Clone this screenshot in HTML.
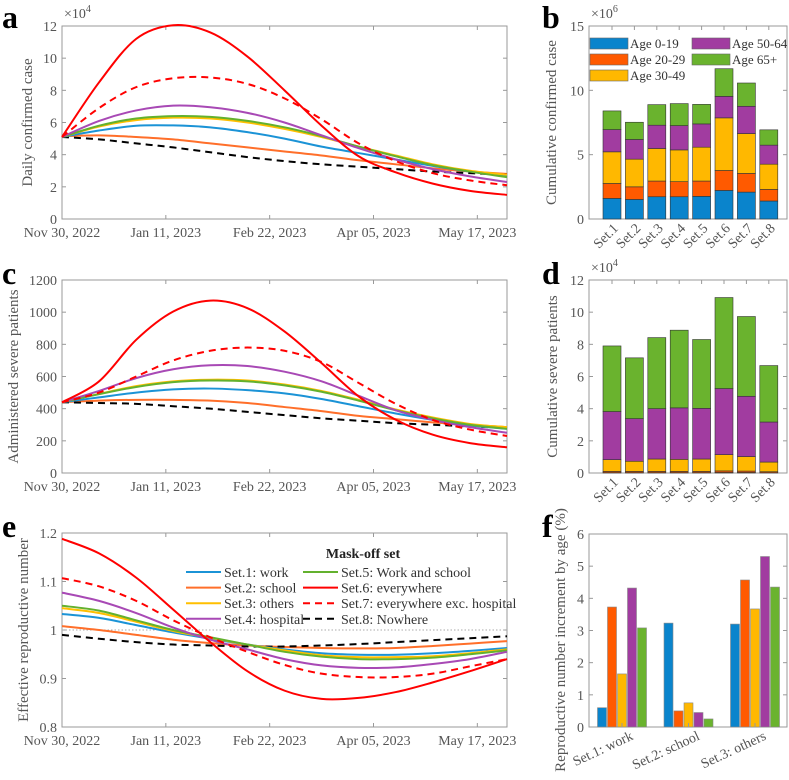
<!DOCTYPE html>
<html><head><meta charset="utf-8"><style>
html,body{margin:0;padding:0;background:#fff}
svg{display:block;font-family:"Liberation Serif",serif}
.tk{font-size:14px;fill:#555}
.lab{font-size:15px;fill:#555}
.pl{font-size:32px;font-weight:bold;fill:#000}
.lg{font-size:14px;fill:#333}
.lgb{font-size:13px;fill:#333}
</style></head><body>
<svg id="fig" width="789" height="780" viewBox="0 0 789 780"></svg>
<script>
// ---------- data ----------
const days = [0,15,30,45,60,75,90,105,120,135,150,165,180];
const dateTicks = [0,42,84,126,168];
const dateLabels = ["Nov 30, 2022","Jan 11, 2023","Feb 22, 2023","Apr 05, 2023","May 17, 2023"];
const setNames = ["Set.1","Set.2","Set.3","Set.4","Set.5","Set.6","Set.7","Set.8"];
const ageNames = ["Age 0-19","Age 20-29","Age 30-49","Age 50-64","Age 65+"];
const legendNames = ["Set.1: work","Set.2: school","Set.3: others","Set.4: hospital","Set.5: Work and school","Set.6: everywhere","Set.7: everywhere exc. hospital","Set.8: Nowhere"];
// panel a (x1e4)
const a1=[5.1,5.5,5.8,5.82,5.7,5.4,5.0,4.5,4.1,3.7,3.3,2.95,2.7];
const a2=[5.15,5.2,5.1,4.95,4.7,4.45,4.2,3.95,3.65,3.4,3.15,2.95,2.8];
const a3=[5.1,5.75,6.15,6.3,6.25,6.0,5.6,5.1,4.5,3.95,3.4,3.0,2.75];
const a4=[5.1,6.1,6.75,7.05,6.95,6.6,6.0,5.2,4.4,3.7,3.1,2.65,2.3];
const a5=[5.1,5.8,6.25,6.4,6.35,6.1,5.7,5.15,4.5,3.9,3.35,2.95,2.6];
const a6=[5.1,8.5,11.2,12.05,11.6,10.1,8.0,5.8,3.9,2.9,2.2,1.75,1.5];
const a7=[5.1,6.9,8.2,8.75,8.8,8.4,7.5,6.2,4.7,3.6,2.85,2.4,2.1];
const a8=[5.1,4.95,4.7,4.45,4.15,3.85,3.6,3.4,3.25,3.1,2.95,2.85,2.75];
// panel c
const c1=[440,470,500,520,525,515,495,460,415,370,330,295,275];
const c2=[440,450,455,455,450,435,410,385,355,335,315,300,285];
const c3=[440,492,540,570,580,575,550,510,455,395,345,305,285];
const c4=[440,510,590,645,670,665,630,570,480,390,330,285,250];
const c5=[440,490,535,565,575,570,545,505,450,390,340,300,275];
const c6=[440,570,828,1004,1072,1025,880,683,476,331,238,186,160];
const c7=[440,500,600,700,760,780,760,690,560,430,330,270,230];
const c8=[440,435,430,415,400,380,360,340,325,310,300,290,280];
// panel e
const e1=[1.033,1.025,1.01,0.995,0.982,0.97,0.96,0.952,0.949,0.949,0.952,0.957,0.963];
const e2=[1.008,1.0,0.99,0.98,0.973,0.968,0.965,0.963,0.962,0.963,0.967,0.972,0.977];
const e3=[1.045,1.035,1.017,0.998,0.984,0.97,0.958,0.948,0.944,0.944,0.946,0.952,0.96];
const e4=[1.077,1.06,1.035,1.005,0.98,0.96,0.94,0.927,0.922,0.923,0.93,0.94,0.955];
const e5=[1.05,1.04,1.02,1.0,0.985,0.97,0.955,0.945,0.94,0.94,0.943,0.95,0.958];
const e6=[1.188,1.158,1.108,1.042,0.975,0.915,0.875,0.858,0.86,0.872,0.892,0.915,0.94];
const e7=[1.107,1.09,1.06,1.02,0.985,0.955,0.928,0.91,0.903,0.903,0.91,0.925,0.94];
const e8=[0.99,0.982,0.975,0.97,0.968,0.966,0.966,0.968,0.971,0.975,0.979,0.983,0.987];
// panel b segments (x1e6)
const b0=[1.6,1.52,1.73,1.73,1.76,2.22,2.09,1.4];
const b1=[1.16,0.98,1.22,1.17,1.19,1.55,1.45,0.9];
const b2=[2.46,2.15,2.53,2.47,2.63,4.09,3.1,1.96];
const b3=[1.73,1.53,1.81,1.89,1.81,1.67,2.12,1.48];
const b4=[1.45,1.34,1.6,1.71,1.52,2.15,1.81,1.19];
// panel d segments (x1e4)
const d0=[0.02,0.02,0.02,0.02,0.02,0.03,0.03,0.02];
const d1=[0.08,0.08,0.08,0.08,0.08,0.1,0.09,0.06];
const d2=[0.73,0.63,0.77,0.75,0.77,1.01,0.9,0.6];
const d3=[2.99,2.65,3.13,3.2,3.15,4.11,3.75,2.49];
const d4=[4.08,3.78,4.42,4.83,4.28,5.66,4.96,3.51];
// panel f
const fGroups=["Set.1: work","Set.2: school","Set.3: others"];
const f0=[0.6,3.23,3.2];
const f1=[3.73,0.5,4.57];
const f2=[1.65,0.75,3.67];
const f3=[4.32,0.45,5.3];
const f4=[3.08,0.25,4.35];

// ---------- drawing ----------
const NS="http://www.w3.org/2000/svg";
const svg=document.getElementById('fig');
function el(tag,attrs,parent,text){const e=document.createElementNS(NS,tag);for(const k in attrs)e.setAttribute(k,attrs[k]);if(text!==undefined)e.textContent=text;(parent||svg).appendChild(e);return e;}
const lineCols=["#1b93d6","#ff6f2a","#ffbf00","#a849b5","#63b12e","#ff0000","#ff0000","#000000"];
const barCols=["#0a84cc","#ff5a00","#ffb800","#a13ca0","#6ab32e"];

function axesBox(g,x0,x1,y0,y1){
  const r=el('rect',{x:x0,y:y0,width:x1-x0,height:y1-y0,fill:'none',stroke:'#999','stroke-width':1},g);
  
}
function yAxis(g,x0,x1,sy,ticks,labels,name){
  ticks.forEach((t,i)=>{const y=sy(t);
    el('line',{x1:x0,y1:y,x2:x0+4,y2:y,stroke:'#999'},g);el('line',{x1:x1,y1:y,x2:x1-4,y2:y,stroke:'#999'},g);
    const tx=el('text',{x:x0-5,y:y+5,'text-anchor':'end',class:'tk'},g,labels[i]);
    });
}
function ylabel(g,x,y,txt,name){const t=el('text',{x:x,y:y,transform:`rotate(-90 ${x} ${y})`,'text-anchor':'middle',class:'lab'},g,txt);
  }
function pletter(x,y,s){const t=el('text',{x:x,y:y,class:'pl'},svg,s);}
function smooth(pts){let d=`M${pts[0][0]},${pts[0][1]}`;
  for(let i=0;i<pts.length-1;i++){const p0=pts[Math.max(0,i-1)],p1=pts[i],p2=pts[i+1],p3=pts[Math.min(pts.length-1,i+2)];
    const c1x=p1[0]+(p2[0]-p0[0])/6,c1y=p1[1]+(p2[1]-p0[1])/6,c2x=p2[0]-(p3[0]-p1[0])/6,c2y=p2[1]-(p3[1]-p1[1])/6;
    d+=` C${c1x},${c1y} ${c2x},${c2y} ${p2[0]},${p2[1]}`;}return d;}

function lineChart(id,y0,y1,ymin,ymax,yticks,ylabs,series,labelX,labelTxt,mult,extra){
  const x0=62,x1=507;
  const g=el('g',{});
  const sx=d=>x0+(d-0)/180*(x1-x0);const sy=v=>y1-(v-ymin)/(ymax-ymin)*(y1-y0);
  axesBox(g,x0,x1,y0,y1);
  dateTicks.forEach((t,i)=>{const x=sx(t);el('line',{x1:x,y1:y1,x2:x,y2:y1-4,stroke:'#999'},g);el('line',{x1:x,y1:y0,x2:x,y2:y0+4,stroke:'#999'},g);
    const tx=el('text',{x:x,y:y1+18,'text-anchor':'middle',class:'tk'},g,dateLabels[i]);
    });
  yAxis(g,x0,x1,sy,yticks,ylabs,'y');
  if(extra)extra(g,sx,sy);
  const order=[1,7,0,2,4,3,6,5];
  order.forEach(i=>{const s=series[i];const pts=days.map((d,k)=>[sx(d),sy(s[k])]);
    const p=el('path',{d:smooth(pts),fill:'none',stroke:lineCols[i],'stroke-width':2,'stroke-dasharray':(i>=6?'7,5':'none')},g);
    });
  ylabel(g,labelX,(y0+y1)/2,labelTxt,'y-axis-title');
  if(mult){const t=el('text',{x:x0+2,y:y0-8,class:'tk'},g,'×10');el('tspan',{dy:-6,'font-size':'10px'},t,mult);
    }
  return g;
}
function stackChart(id,y0,y1,ymax,yticks,ylabs,segs,labelX,labelTxt,mult,legend){
  const x0=589,x1=787;
  const g=el('g',{});
  const sy=v=>y1-v/ymax*(y1-y0);const sx=i=>612+i*22.4;
  axesBox(g,x0,x1,y0,y1);
  yAxis(g,x0,x1,sy,yticks,ylabs,'y');
  setNames.forEach((n,i)=>{const x=sx(i);el('line',{x1:x,y1:y1,x2:x,y2:y1-4,stroke:'#999'},g);el('line',{x1:x,y1:y0,x2:x,y2:y0+4,stroke:'#999'},g);
    let cum=0;segs.forEach((s,k)=>{const r=el('rect',{x:x-9,y:sy(cum+s[i]),width:18,height:sy(cum)-sy(cum+s[i]),fill:barCols[k],stroke:'#333','stroke-width':0.6},g);
      cum+=s[i];});
    const tx=el('text',{x:x+7,y:y1+10,'text-anchor':'end',transform:`rotate(-45 ${x+7} ${y1+10})`,class:'tk'},g,n);
    });
  ylabel(g,labelX,(y0+y1)/2,labelTxt,'y-axis-title');
  const t=el('text',{x:x0+2,y:y0-8,class:'tk'},g,'×10');el('tspan',{dy:-6,'font-size':'10px'},t,mult);
  
  if(legend){const pos=[[590,44],[590,60],[590,76],[692,44],[692,60]];
    ageNames.forEach((n,k)=>{const [lx,ly]=pos[k];
      const r=el('rect',{x:lx,y:ly-6,width:38,height:11,fill:barCols[k],stroke:'#666','stroke-width':0.6},g);
      
      const tx=el('text',{x:lx+40,y:ly+4,class:'lgb'},g,n);});}
}
// a
lineChart('a',26,219,0,12,[0,2,4,6,8,10,12],["0","2","4","6","8","10","12"],[a1,a2,a3,a4,a5,a6,a7,a8],32,'Daily confirmed case','4');
// c
lineChart('c',280,473,0,1200,[0,200,400,600,800,1000,1200],["0","200","400","600","800","1000","1200"],[c1,c2,c3,c4,c5,c6,c7,c8],18,'Administered severe patients',null);
// e
const ge=lineChart('e',533,727,0.8,1.2,[0.8,0.9,1.0,1.1,1.2],["0.8","0.9","1","1.1","1.2"],[e1,e2,e3,e4,e5,e6,e7,e8],28,'Effective reproductive number',null,
  (g,sx,sy)=>{const l=el('line',{x1:sx(0),y1:sy(1),x2:sx(180),y2:sy(1),stroke:'#aaa','stroke-dasharray':'1.5,2'},g);});
{const lg=el('g',{},ge);
 const tt=el('text',{x:363,y:558,'text-anchor':'middle','font-size':'14px','font-weight':'bold',fill:'#222'},lg,'Mask-off set');
 
 legendNames.forEach((n,i)=>{const col=i<4?0:1,row=i%4;const lx=col?303:186,ly=572+row*15.6;
   const ln=el('line',{x1:lx,y1:ly,x2:lx+35,y2:ly,stroke:lineCols[i],'stroke-width':2,'stroke-dasharray':i>=6?'7,5':'none'},lg);
   
   const tx=el('text',{x:lx+38,y:ly+5,class:'lg'},lg,n);});}
// b, d
stackChart('b',26,219,15,[0,5,10,15],["0","5","10","15"],[b0,b1,b2,b3,b4],556,'Cumulative confirmed case','6',true);
stackChart('d',280,473,12,[0,2,4,6,8,10,12],["0","2","4","6","8","10","12"],[d0,d1,d2,d3,d4],557,'Cumulative severe patients','4',false);
// f
{const x0=589,x1=787,y0=534,y1=727;const g=el('g',{});
 const sy=v=>y1-v/6*(y1-y0);const gx=i=>622+i*66.5;
 axesBox(g,x0,x1,y0,y1);yAxis(g,x0,x1,sy,[0,1,2,3,4,5,6],["0","1","2","3","4","5","6"],'y');
 [f0,f1,f2,f3,f4].forEach((s,k)=>{s.forEach((v,i)=>{const x=gx(i)+(k-2)*10;
   const r=el('rect',{x:x-4.5,y:sy(v),width:9,height:sy(0)-sy(v),fill:barCols[k],stroke:'#888','stroke-width':0.6},g);
   });});
 fGroups.forEach((n,i)=>{const x=gx(i);el('line',{x1:x,y1:y1,x2:x,y2:y1-4,stroke:'#999'},g);
   const tx=el('text',{x:x+12,y:y1+12,'text-anchor':'end',transform:`rotate(-25 ${x+12} ${y1+12})`,class:'tk'},g,n);
   });
 ylabel(g,565,640,'Reproductive number increment by age (%)','y-axis-title');}
pletter(2,28,'a');pletter(542,28,'b');pletter(2,284,'c');pletter(542,284,'d');pletter(2,537,'e');pletter(542,537,'f');
</script>
</body></html>
